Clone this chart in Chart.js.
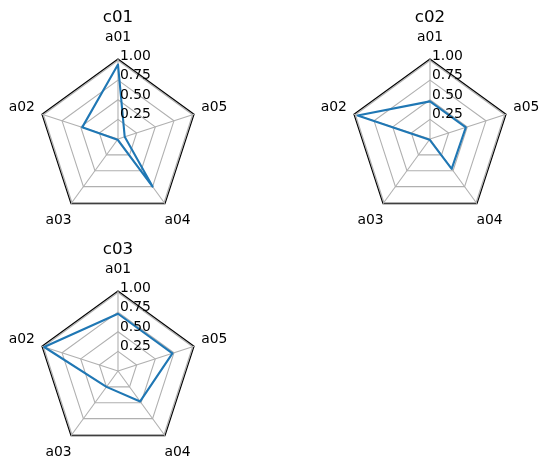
<!DOCTYPE html>
<html>
<head>
<meta charset="utf-8">
<script src="https://cdn.jsdelivr.net/npm/chart.js@4"></script>
<style>
  html, body { margin: 0; padding: 0; background: #fff; }
  body { width: 549px; height: 470px; position: relative; overflow: hidden; }
  .cell { position: absolute; }
</style>
</head>
<body>
<div class="cell" style="left:-2px;top:0px"><canvas id="c01" width="240" height="260"></canvas></div>
<div class="cell" style="left:310px;top:0px"><canvas id="c02" width="240" height="260"></canvas></div>
<div class="cell" style="left:-2px;top:232px"><canvas id="c03" width="240" height="260"></canvas></div>
<script>
const categories = ["a01", "a02", "a03", "a04", "a05"];
const titles = ["c01", "c02", "c03"];
const c01 = [0.95, 0.48, 0.01, 0.75, 0.09];
const c02 = [0.48, 0.97, 0.01, 0.47, 0.48];
const c03 = [0.73, 0.99, 0.25, 0.48, 0.73];
const tickValues = [0.25, 0.5, 0.75, 1.0];
const tickLabels = ["0.25", "0.50", "0.75", "1.00"];

// matplotlib goes counter-clockwise, chart.js clockwise
const order = [0, 4, 3, 2, 1];
const FONT = '"DejaVu Sans", sans-serif';

const radarText = {
  id: "radarText",
  afterDraw(chart) {
    const r = chart.scales.r;
    const ctx = chart.ctx;
    ctx.save();
    ctx.fillStyle = "#000";
    ctx.font = "13.9px " + FONT;
    ctx.textAlign = "center";
    ctx.textBaseline = "middle";
    chart.data.labels.forEach((lab, i) => {
      const p = r.getPointPosition(i, r.drawingArea * 1.265);
      ctx.fillText(lab, p.x, p.y);
    });
    ctx.textAlign = "left";
    ctx.textBaseline = "alphabetic";
    tickValues.forEach((v, i) => {
      const p = r.getPointPositionForValue(0, v);
      ctx.fillText(tickLabels[i], p.x + 2, p.y - 1);
    });
    ctx.restore();
  }
};

function makeRadar(id, title, values) {
  new Chart(document.getElementById(id), {
    type: "radar",
    data: {
      labels: order.map(i => categories[i]),
      datasets: [{
        data: order.map(i => values[i]),
        borderColor: "#1f77b4",
        borderWidth: 2.1,
        borderJoinStyle: "round",
        fill: false,
        pointRadius: 0,
        tension: 0
      }]
    },
    options: {
      responsive: false,
      animation: false,
      layout: { padding: { top: 8, left: 40, right: 40, bottom: 40 } },
      plugins: {
        legend: { display: false },
        tooltip: { enabled: false },
        title: {
          display: true,
          text: title,
          color: "#000",
          font: { family: FONT, size: 16.7, weight: "normal" },
          padding: { top: 0, bottom: 31.6 }
        }
      },
      scales: {
        r: {
          min: 0,
          max: 1.02,
          afterBuildTicks: axis => {
            axis.ticks = [0, 0.25, 0.5, 0.75, 1.0, 1.02].map(v => ({ value: v }));
          },
          ticks: { display: false },
          pointLabels: { display: false },
          grid: {
            color: c => (c.tick && c.tick.value > 1 ? "#000" : "#b0b0b0"),
            lineWidth: 1.1
          },
          angleLines: { color: "#b0b0b0", lineWidth: 1.1 }
        }
      }
    },
    plugins: [radarText]
  });
}

makeRadar("c01", titles[0], c01);
makeRadar("c02", titles[1], c02);
makeRadar("c03", titles[2], c03);
</script>
</body>
</html>
